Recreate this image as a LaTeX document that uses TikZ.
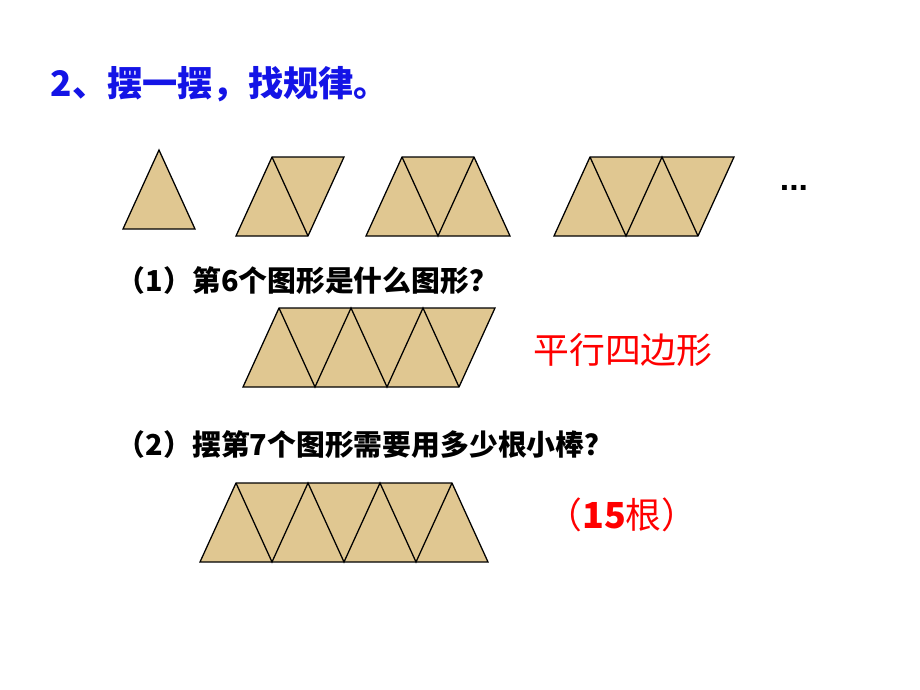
\documentclass[tikz,border=0pt]{standalone}
\usepackage{fontspec}
\setmainfont{Liberation Sans}
\newfontfamily\cjk{Noto Sans CJK SC}
\definecolor{papyrus}{RGB}{224,199,145}
\definecolor{titleblue}{RGB}{20,20,230}
\tikzset{
  tri/.style={fill=papyrus,draw=black,line width=0.9pt,line join=miter},
  ask/.style={anchor=west,font=\cjk\fontsize{20.5}{20.5}\selectfont\bfseries},
  answer/.style={font=\cjk\fontsize{25.5}{25.5}\selectfont,text=red}
}
\begin{document}
\begin{tikzpicture}[x=0.025cm,y=-0.025cm]
    \useasboundingbox (0,0) rectangle (920,690);

    % Title
    \node[anchor=west,font=\cjk\fontsize{25}{25}\selectfont\bfseries,text=titleblue] (title) at (46,84) {2、摆一摆，找规律。};

    % First row of figures
    \draw[tri] (123,229) -- (159,150) -- (195,229) -- cycle;
    \draw[tri] (236,236) -- (272,157) -- (344,157) -- (308,236) -- cycle;
    \draw[line width=0.9pt] (272,157) -- (308,236);
    \draw[tri] (366,236) -- (402,157) -- (474,157) -- (510,236) -- cycle;
    \draw[line width=0.9pt] (402,157) -- (438,236) -- (474,157);
    \draw[tri] (554,236) -- (590,157) -- (734,157) -- (698,236) -- cycle;
    \draw[line width=0.9pt] (590,157) -- (626,236) -- (662,157) -- (698,236);
    \node[font=\fontsize{24}{24}\selectfont\bfseries] (dots) at (794,188) {...};

    % Question 1
    \node[ask] (q1) at (112,281) {（1）第6个图形是什么图形？};
    \draw[tri] (243,387) -- (279,308) -- (495,308) -- (459,387) -- cycle;
    \draw[line width=0.9pt] (279,308) -- (315,387) -- (351,308) -- (387,387) -- (423,308) -- (459,387);
    \node[answer] (a1) at (623,350) {平行四边形};

    % Question 2
    \node[ask] (q2) at (112,445) {（2）摆第7个图形需要用多少根小棒？};
    \draw[tri] (200,562) -- (236,483) -- (452,483) -- (488,562) -- cycle;
    \draw[line width=0.9pt] (236,483) -- (272,562) -- (308,483) -- (344,562) -- (380,483) -- (416,562) -- (452,483);
    \node[answer] (a2) at (622,515) {（\textbf{15}根）};
\end{tikzpicture}
\end{document}
